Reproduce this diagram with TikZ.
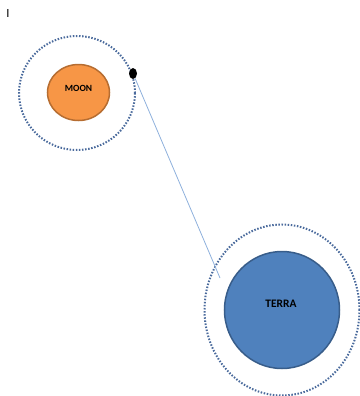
\documentclass[tikz,border=0pt]{standalone}
\usepackage{fontspec}
\setmainfont{Carlito}
\usetikzlibrary{shapes.geometric}
\definecolor{moonfill}{HTML}{F79646}
\definecolor{moonline}{HTML}{B66D31}
\definecolor{earthfill}{HTML}{4F81BD}
\definecolor{earthline}{HTML}{385D8A}
\definecolor{orbitcol}{HTML}{4A6A9C}
\definecolor{pathcol}{HTML}{8EB0DC}
\begin{document}
\begin{tikzpicture}[x=1bp,y=-1bp,
  orbit/.style={draw=orbitcol, line width=2bp, dash pattern=on 1.5bp off 1.6bp, fill=none},
  body/.style={ellipse, inner sep=0pt, line width=1.5bp},
  label/.style={inner sep=0pt, font=\bfseries},
  trajectory/.style={draw=pathcol, line width=0.8bp}]
  \useasboundingbox (0,0) rectangle (360,396);
  % cursor mark in the corner
  \node[font=\fontsize{12.5}{13}\selectfont, inner sep=0pt] (cursor) at (8,13) {I};
  % orbits
  \node[orbit, ellipse, inner sep=0pt, minimum width=116bp, minimum height=114bp] (moonorbit) at (77,93) {};
  \node[orbit, ellipse, inner sep=0pt, minimum width=155bp, minimum height=171bp] (earthorbit) at (282,310) {};
  % moon and earth
  \node[body, draw=moonline, fill=moonfill, minimum width=62bp, minimum height=56bp] (moonbody) at (78.5,92.5) {};
  \node[label, font=\bfseries\fontsize{9.5}{10}\selectfont] (moon) at (78.5,88) {MOON};
  \node[body, draw=earthline, fill=earthfill, minimum width=115bp, minimum height=117bp] (earthbody) at (282,310) {};
  \node[label, font=\bfseries\fontsize{11.5}{12}\selectfont] (terra) at (281,304) {TERRA};
  % spacecraft and its trajectory
  \node[fill=black, ellipse, inner sep=0pt, minimum width=8bp, minimum height=11bp] (craft) at (133,73.5) {};
  \coordinate (arrival) at (220,278);
  \draw[trajectory] (craft) -- (arrival);
\end{tikzpicture}
\end{document}
